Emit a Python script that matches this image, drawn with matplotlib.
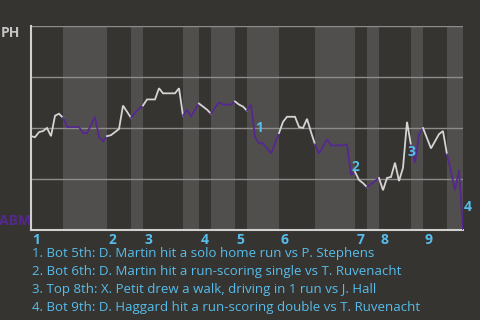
import matplotlib
matplotlib.use("Agg")
import matplotlib.pyplot as plt
import numpy as np

plt.rcParams['font.family'] = ['Open Sans', 'DejaVu Sans']

# win probability for PH (percent), one value per plate appearance
wp = [46, 45.5, 48, 48.5, 50, 46, 56, 57, 55,
      50.5, 50.5, 50.5, 50.5, 47.5, 47.5, 51.5, 55.5, 45.5, 43.5, 46,
      46.5, 48, 49.5, 61, 58, 55,
      57.5, 59.5, 61,
      64, 64, 64, 69.5, 67, 67, 67, 67, 69.5, 56,
      59, 55.5, 59, 62,
      60.5, 59, 57,
      60, 62.5, 61.5, 61.5, 61.5, 63,
      61.5, 60.5, 58.5,
      61.5, 45.5, 42.5, 42.5, 40, 37.5, 42.5, 47.5,
      53, 55.5, 55.5, 55.5, 50.5, 50, 54.5, 48, 42,
      37.5, 41, 44.5, 41.5, 41.5, 41.5, 41.5, 42, 27, 28.5,
      24.5, 23, 21,
      22.5, 24, 25.5,
      19.5, 25.5, 26, 33, 24, 30.5, 53, 41.5,
      33, 47, 50,
      45, 40, 43.5, 47, 48.5, 37,
      28.5, 19.5, 29.5, 0]
pa = np.arange(len(wp))

# plate appearances in each half inning (top 1st, bot 1st, ...)
half_len = [8, 11, 6, 3, 10, 4, 3, 6, 3, 8, 9, 10, 3, 3, 8, 3, 6, 4]
innings = ['1', '2', '3', '4', '5', '6', '7', '8', '9']

event_pa = [56, 80, 94, 108]
event_tags = ['1', '2', '3', '4']
event_text = [
    "1. Bot 5th: D. Martin hit a solo home run vs P. Stephens",
    "2. Bot 6th: D. Martin hit a run-scoring single vs T. Ruvenacht",
    "3. Top 8th: X. Petit drew a walk, driving in 1 run vs J. Hall",
    "4. Bot 9th: D. Haggard hit a run-scoring double vs T. Ruvenacht",
]

bg = '#363430'
band = '#514f4d'
top_col = '#d4d4d4'
bot_col = '#55288f'
blue = '#56bdec'

fig = plt.figure(figsize=(4.8, 3.2), dpi=100, facecolor=bg)
ax = fig.add_axes([31/480, 1-230/320, 432/480, 204/320], facecolor=bg)

bounds = np.concatenate([[0], np.cumsum(half_len)])
for i in range(len(half_len)):
    a, b = bounds[i], bounds[i+1]
    if i % 2 == 1:
        ax.axvspan(a, b, color=band, lw=0, zorder=0)

for y in [25, 50, 75, 100]:
    ax.axhline(y, color='#8e8c8a', lw=1, zorder=1)

for i in range(len(half_len)):
    a, b = bounds[i], bounds[i+1]
    col = top_col if i % 2 == 0 else bot_col
    ax.plot(pa[a:b+1], wp[a:b+1], color=col, lw=1.3, zorder=3,
            solid_joinstyle='miter')

ax.set_xlim(0, bounds[-1])
ax.set_ylim(0, 100)
ax.set_xticks([])
ax.set_yticks([])
for s in ['top', 'right']:
    ax.spines[s].set_visible(False)
for s in ['left', 'bottom']:
    ax.spines[s].set_color('#d0d0d0')
    ax.spines[s].set_linewidth(1.5)

# inning numbers under the axis
for lab, x in zip(innings, bounds[0::2]):
    ax.annotate(lab, (x, 0), xycoords=('data', 'axes fraction'),
                xytext=(1, -7), textcoords='offset points',
                ha='left', va='center', color=blue, fontsize=10,
                fontweight='bold')

# event tags beside the segment that caused them
for tag, k in zip(event_tags, event_pa):
    ax.annotate(tag, (k - 0.5, (wp[k-1] + wp[k]) / 2),
                xytext=(4.5, -5), textcoords='offset points',
                ha='center', va='center', color=blue, fontsize=10,
                fontweight='bold', zorder=5)

fig.text(10.5/480, 1-33/320, 'PH', color='#c4c4c4', fontsize=10,
         fontweight='bold', ha='center', va='center')
fig.text(15/480, 1-221/320, 'ABM', color=bot_col, fontsize=10,
         fontweight='bold', ha='center', va='center')

for j, t in enumerate(event_text):
    fig.text(32/480, 1-(254 + j*17.8)/320, t, color=blue, fontsize=9.5,
             ha='left', va='center')

fig.savefig('out.png', dpi=100, facecolor=bg)
